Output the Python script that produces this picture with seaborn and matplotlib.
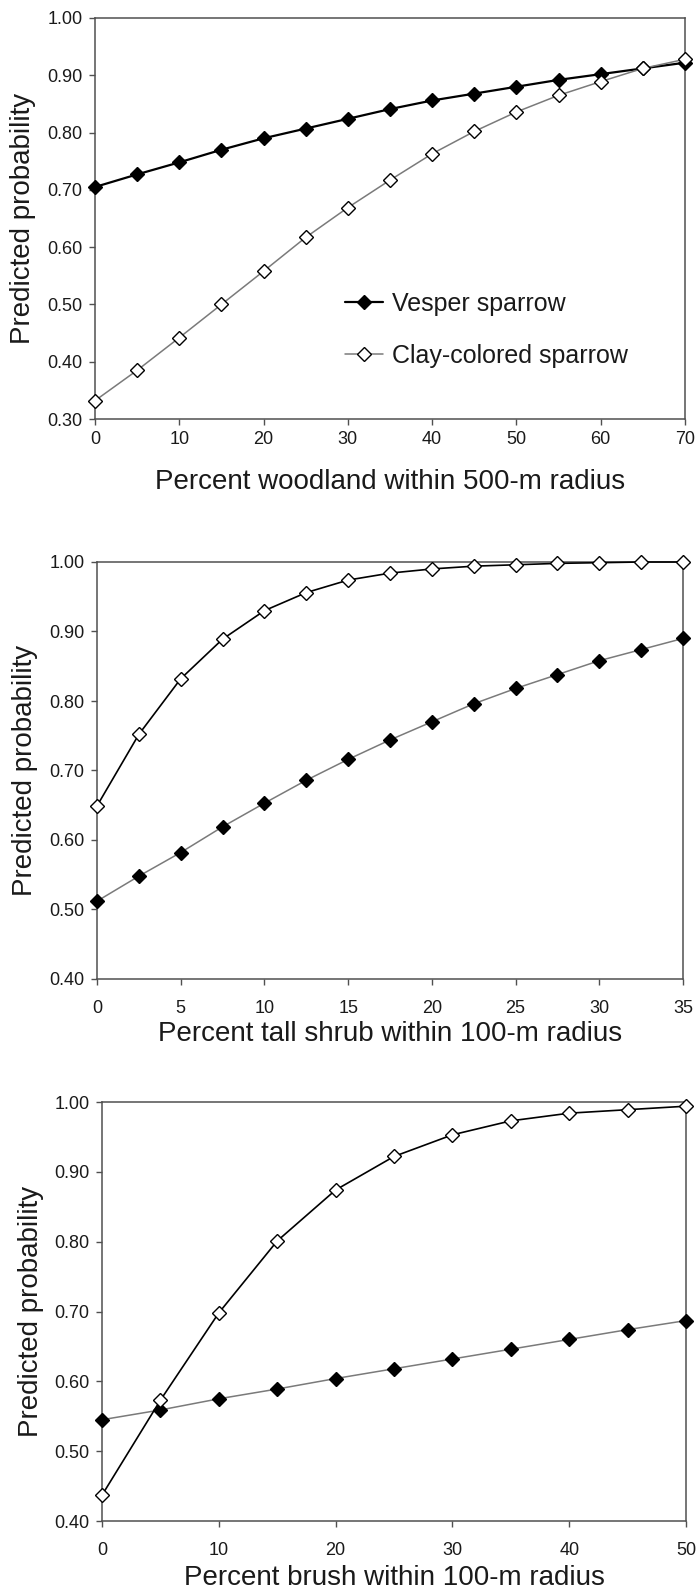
import matplotlib
matplotlib.use("Agg")
import matplotlib.pyplot as plt
import seaborn as sns
import numpy as np
import pandas as pd

# Panel 1: percent woodland within 500-m radius
woodland_pct = [0, 5, 10, 15, 20, 25, 30, 35, 40, 45, 50, 55, 60, 65, 70]
woodland_vesper = [0.705, 0.727, 0.748, 0.770, 0.790, 0.807, 0.824, 0.841,
                   0.856, 0.868, 0.880, 0.892, 0.902, 0.912, 0.922]
woodland_clay = [0.332, 0.385, 0.442, 0.500, 0.558, 0.617, 0.669, 0.717,
                 0.763, 0.802, 0.836, 0.865, 0.889, 0.912, 0.928]

# Panel 2: percent tall shrub within 100-m radius
shrub_pct = [0, 2.5, 5, 7.5, 10, 12.5, 15, 17.5, 20, 22.5, 25, 27.5, 30, 32.5, 35]
shrub_vesper = [0.512, 0.548, 0.582, 0.619, 0.653, 0.686, 0.716, 0.744,
                0.770, 0.796, 0.818, 0.838, 0.858, 0.874, 0.890]
shrub_clay = [0.649, 0.752, 0.832, 0.889, 0.930, 0.956, 0.974, 0.984,
              0.990, 0.994, 0.996, 0.998, 0.999, 1.000, 1.000]

# Panel 3: percent brush within 100-m radius
brush_pct = [0, 5, 10, 15, 20, 25, 30, 35, 40, 45, 50]
brush_vesper = [0.545, 0.559, 0.575, 0.589, 0.604, 0.618, 0.632, 0.646,
                0.660, 0.674, 0.687]
brush_clay = [0.437, 0.573, 0.698, 0.801, 0.874, 0.922, 0.953, 0.973,
              0.984, 0.989, 0.994]

sns.set_style("ticks")
plt.rcParams['font.family'] = ['Liberation Sans', 'DejaVu Sans']

TEXT = '#1a1a1a'
FRAME = '#505050'
GRAY = '#7a7a7a'

fig = plt.figure(figsize=(6.97, 15.91), dpi=100)
fig.patch.set_facecolor('white')

boxes = [(95, 685, 18, 419), (97, 683, 562, 979), (102, 686, 1102, 1521)]
W, H = 697, 1591


def make_ax(box):
    l, r, t, b = box
    return fig.add_axes([l / W, 1 - b / H, (r - l) / W, (b - t) / H])


def draw(ax, x, vesper, clay, vesper_style, clay_style):
    df = pd.DataFrame({'x': x, 'vesper': vesper, 'clay': clay})
    sns.lineplot(data=df, x='x', y='vesper', ax=ax, marker='D',
                 markersize=7, markerfacecolor='black', markeredgecolor='black',
                 markeredgewidth=1, label='Vesper sparrow', clip_on=False,
                 zorder=3, **vesper_style)
    sns.lineplot(data=df, x='x', y='clay', ax=ax, marker='D',
                 markersize=7, markerfacecolor='white', markeredgecolor='black',
                 markeredgewidth=1, label='Clay-colored sparrow', clip_on=False,
                 zorder=4, **clay_style)


def style_ax(ax, xmax, xstep, ymin, xlabel, xpad, xlab_y):
    xt = np.arange(0, xmax + 0.01, xstep)
    yt = np.arange(ymin, 1.001, 0.1)
    ax.set_xlim(0, xmax)
    ax.set_ylim(ymin, 1.0)
    ax.set_xticks(xt)
    ax.set_yticks(yt)
    ax.set_yticklabels([f'{v:.2f}' for v in yt])
    ax.set_xticklabels([f'{v:g}' for v in xt])
    for s in ax.spines.values():
        s.set_visible(True)
        s.set_color(FRAME)
        s.set_linewidth(1.1)
    ax.tick_params(axis='both', direction='out', length=4, width=1,
                   color=FRAME, labelsize=13, labelcolor=TEXT)
    ax.tick_params(axis='x', pad=xpad)
    ax.tick_params(axis='y', pad=5)
    ax.set_xlabel(xlabel, fontsize=20, color=TEXT, va='top')
    ax.set_ylabel('Predicted probability', fontsize=20, color=TEXT)
    ax.xaxis.set_label_coords(0.5, xlab_y)
    ax.yaxis.set_label_coords(-0.1, 0.5)
    ax.grid(False)


thick = dict(color='black', linewidth=1.6)
thin_black = dict(color='black', linewidth=1.2)
thin_gray = dict(color=GRAY, linewidth=1.1)

ax1 = make_ax(boxes[0])
draw(ax1, woodland_pct, woodland_vesper, woodland_clay, thick, thin_gray)
style_ax(ax1, 70, 10, 0.3, 'Percent woodland within 500-m radius', 5, -0.125)
ax1.legend(loc='center left', bbox_to_anchor=(0.423, 0.222), frameon=False,
           fontsize=18, handlelength=1.55, handletextpad=0.35,
           labelspacing=1.1, borderpad=0, borderaxespad=0, labelcolor=TEXT)

ax2 = make_ax(boxes[1])
draw(ax2, shrub_pct, shrub_vesper, shrub_clay, thin_gray, thin_black)
style_ax(ax2, 35, 5, 0.4, 'Percent tall shrub within 100-m radius', 11, -0.1)
ax2.get_legend().remove()

ax3 = make_ax(boxes[2])
draw(ax3, brush_pct, brush_vesper, brush_clay, thin_gray, thin_black)
style_ax(ax3, 50, 10, 0.4, 'Percent brush within 100-m radius', 11, -0.105)
ax3.get_legend().remove()

fig.savefig('out.png', dpi=100, facecolor='white')
plt.close(fig)
